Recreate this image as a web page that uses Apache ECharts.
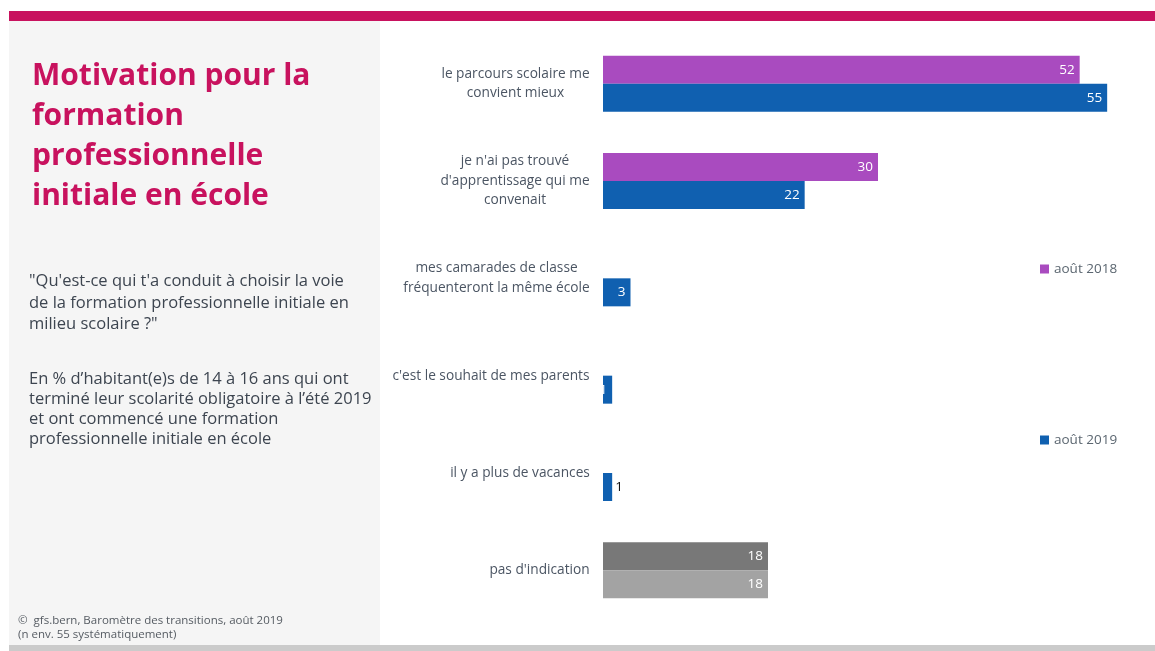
<!DOCTYPE html>
<html>
<head>
<meta charset="utf-8">
<script src="https://cdn.jsdelivr.net/npm/echarts@6/dist/echarts.min.js"></script>
<style>
html,body{margin:0;padding:0;background:#fff;}
#c{width:1155px;height:651px;}
</style>
</head>
<body>
<div id="c"></div>
<script>
const categories = [
  "le parcours scolaire me\nconvient mieux",
  "je n'ai pas trouvé\nd'apprentissage qui me\nconvenait",
  "mes camarades de classe\nfréquenteront la même école",
  "c'est le souhait de mes parents",
  "il y a plus de vacances",
  "pas d'indication"
];
const values2018 = [52, 30, null, null, null, 18];
const values2019 = [55, 22, 3, 1, 1, 18];
const seriesNames = ["août 2018", "août 2019"];

const C2018 = '#A94BBF', C2019 = '#1060B0', GREY_DARK = '#787878', GREY_LIGHT = '#A3A3A3';
const FONT = 'Open Sans';
const CAT_SIZE = 13.7;

// measure lines to center multi-line labels inside a right-aligned block
const cv = document.createElement('canvas').getContext('2d');
cv.font = CAT_SIZE + 'px "' + FONT + '"';
const rich = {};
categories.forEach((c, i) => {
  const w = Math.max(...c.split('\n').map(l => cv.measureText(l).width));
  rich['c' + i] = { width: Math.ceil(w), align: 'center', color: '#4B5563', fontSize: CAT_SIZE, fontFamily: FONT, lineHeight: 19.5 };
});

function items(vals, isLast) {
  return vals.map((v, i) => {
    if (v === null) return null;
    const it = { value: v };
    if (i === categories.length - 1) it.itemStyle = { color: isLast ? GREY_LIGHT : GREY_DARK };
    if (i === 4) it.label = { position: 'right', color: '#111', distance: 3 };
    return it;
  });
}

const chart = echarts.init(document.getElementById('c'));
chart.setOption({
  animation: false,
  textStyle: { fontFamily: FONT },
  graphic: [
    { type: 'rect', shape: { x: 9, y: 11, width: 1146, height: 10 }, style: { fill: '#C8125E' } },
    { type: 'rect', shape: { x: 9, y: 21, width: 371, height: 624 }, style: { fill: '#F5F5F5' } },
    { type: 'rect', shape: { x: 9, y: 645, width: 1146, height: 6 }, style: { fill: '#CBCBCB' } },
    { type: 'text', left: 32, top: 56, style: {
      text: 'Motivation pour la\nformation\nprofessionnelle\ninitiale en école',
      font: 'bold 30px "' + FONT + '"', fill: '#C8125E', lineHeight: 40 } },
    { type: 'text', left: 29, top: 271, style: {
      text: '"Qu\'est-ce qui t\'a conduit à choisir la voie\nde la formation professionnelle initiale en\nmilieu scolaire ?"',
      font: '16.5px "' + FONT + '"', fill: '#3D4550', lineHeight: 21.5 } },
    { type: 'text', left: 29, top: 369, style: {
      text: 'En % d\u2019habitant(e)s de 14 à 16 ans qui ont\nterminé leur scolarité obligatoire à l\u2019été 2019\net ont commencé une formation\nprofessionnelle initiale en école',
      font: '16.5px "' + FONT + '"', fill: '#3D4550', lineHeight: 20 } },
    { type: 'text', left: 18, top: 613, style: {
      text: '\u00A9  gfs.bern, Baromètre des transitions, août 2019\n(n env. 55 systématiquement)',
      font: '11.5px "' + FONT + '"', fill: '#555B62', lineHeight: 14.5 } }
  ],
  legend: [
    { data: [seriesNames[0]], left: 1035, top: 257, icon: 'rect', itemWidth: 9, itemHeight: 9, itemGap: 5,
      textStyle: { color: '#5B6670', fontSize: 13.5, fontFamily: FONT }, selectedMode: false },
    { data: [seriesNames[1]], left: 1035, top: 428, icon: 'rect', itemWidth: 9, itemHeight: 9, itemGap: 5,
      textStyle: { color: '#5B6670', fontSize: 13.5, fontFamily: FONT }, selectedMode: false }
  ],
  grid: { left: 603, top: 35, width: 550, height: 584, containLabel: false },
  xAxis: { type: 'value', min: 0, max: 60, show: false },
  yAxis: {
    type: 'category', data: categories, inverse: true,
    axisLine: { show: false }, axisTick: { show: false }, splitLine: { show: false },
    axisLabel: {
      margin: 13, align: 'right', lineHeight: 19.5,
      formatter: (v, i) => v.split('\n').map(l => '{c' + i + '|' + l + '}').join('\n'),
      rich: rich
    }
  },
  series: [
    { name: seriesNames[0], type: 'bar', data: items(values2018, false), barWidth: 28, barGap: '0%',
      itemStyle: { color: C2018 },
      label: { show: true, position: 'insideRight', color: '#fff', fontSize: 13.5, fontFamily: FONT, distance: 5 } },
    { name: seriesNames[1], type: 'bar', data: items(values2019, true), barWidth: 28, barGap: '0%',
      itemStyle: { color: C2019 },
      label: { show: true, position: 'insideRight', color: '#fff', fontSize: 13.5, fontFamily: FONT, distance: 5 } }
  ]
});
</script>
</body>
</html>
